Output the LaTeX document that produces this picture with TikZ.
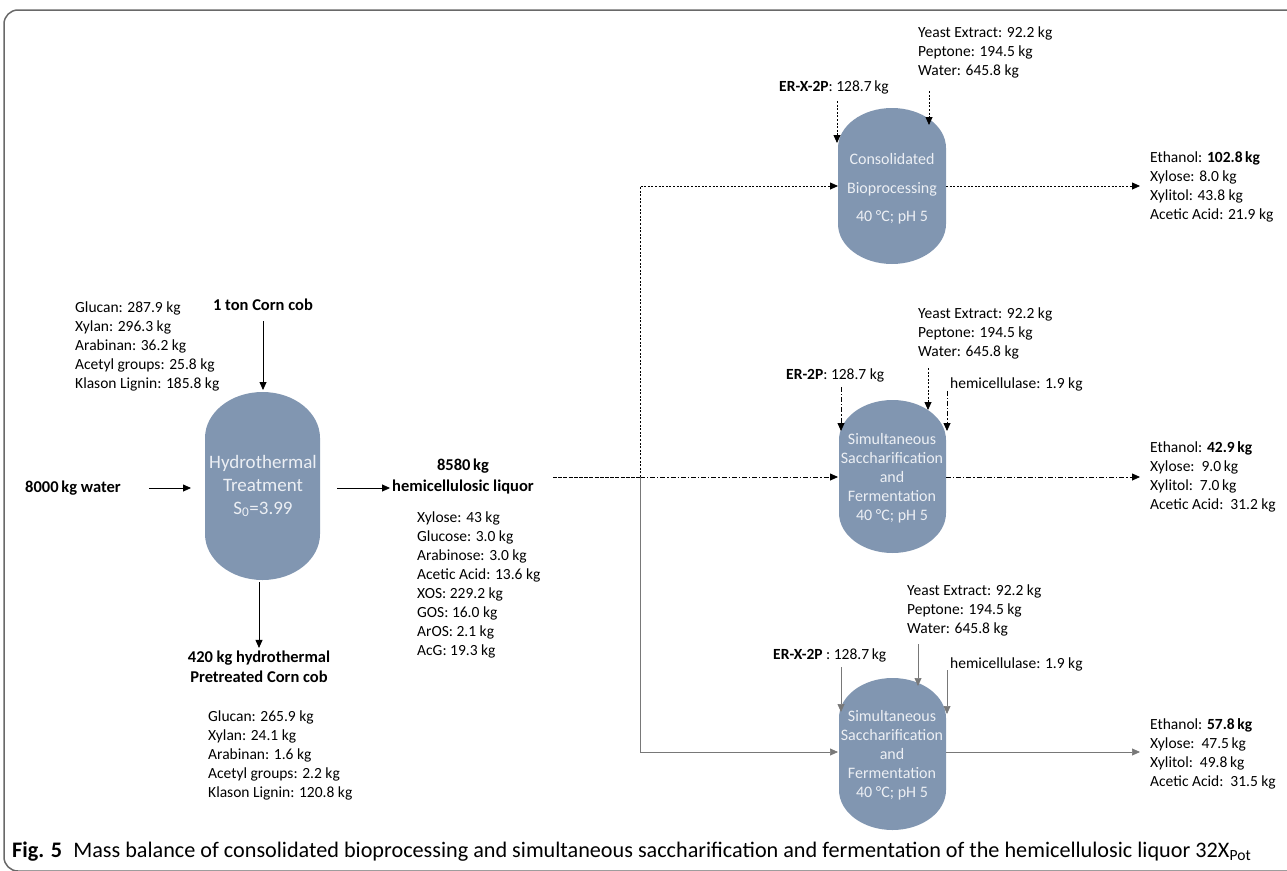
\documentclass[tikz,border=0pt]{standalone}
\usepackage{fontspec}
\setmainfont{Carlito}
\usepackage{graphicx}
\usetikzlibrary{arrows.meta}
\definecolor{vesselfill}{RGB}{129,150,177}
\definecolor{vesseltext}{RGB}{236,239,244}
\definecolor{framegray}{RGB}{105,105,105}
\definecolor{finegray}{RGB}{120,120,120}
\newcommand{\drawvessel}[5]{%
 \fill[vesselfill] ({#1},{#2+#5}) .. controls ({#1},{#2+0.4477*#5}) and ({(#1+#3)/2-0.5523*(#3-#1)/2},{#2}) .. ({(#1+#3)/2},{#2}) .. controls ({(#1+#3)/2+0.5523*(#3-#1)/2},{#2}) and ({#3},{#2+0.4477*#5}) .. ({#3},{#2+#5}) -- ({#3},{#4-#5}) .. controls ({#3},{#4-0.4477*#5}) and ({(#1+#3)/2+0.5523*(#3-#1)/2},{#4}) .. ({(#1+#3)/2},{#4}) .. controls ({(#1+#3)/2-0.5523*(#3-#1)/2},{#4}) and ({#1},{#4-0.4477*#5}) .. ({#1},{#4-#5}) -- cycle;}
\tikzset{
 txt/.style={font=\fontsize{15.5}{19}\selectfont, inner sep=0pt, align=left, anchor=north west},
 lbl/.style={font=\fontsize{16.5}{20}\selectfont\bfseries, inner sep=0pt, align=center},
 vtext/.style={font=\fontsize{16}{19}\selectfont, text=vesseltext, inner sep=0pt, align=center},
 tip/.style={-{Triangle[length=8pt,width=7pt]}},
 solidarr/.style={tip, line width=0.8pt, black},
 dotarr/.style={tip, line width=0.8pt, black, dash pattern=on 2pt off 1.6pt},
 dashln/.style={line width=0.9pt, black, dash pattern=on 4pt off 1.2pt},
 dasharr/.style={tip, line width=0.8pt, black, dash pattern=on 5pt off 2pt on 1.2pt off 2pt},
 finearr/.style={tip, line width=0.7pt, finegray},
}
\begin{document}
\begin{tikzpicture}[x=1pt,y=-1pt]
\useasboundingbox (0,0) rectangle (1287,870);
\draw[framegray, line width=1.5pt, rounded corners=14pt] (4,10) rectangle (1320,871);

% vessels
\drawvessel{205}{392}{320}{580}{46}
\drawvessel{838}{108}{946}{264}{40}
\drawvessel{839}{400}{946}{553}{40}
\drawvessel{839}{678}{946}{830}{40}

\node[vtext, font=\fontsize{19}{23}\selectfont] (ht) at (263,486) {Hydrothermal\\Treatment\\S\textsubscript{0}=3.99};
\node[vtext, font=\fontsize{16}{28.5}\selectfont] (cbp) at (892,189) {Consolidated\\Bioprocessing\\40 °C; pH 5};
\node[vtext] (ssfa) at (892,478) {Simultaneous\\Saccharification\\and\\Fermentation\\40 °C; pH 5};
\node[vtext] (ssfb) at (892,755) {Simultaneous\\Saccharification\\and\\Fermentation\\40 °C; pH 5};

% left part
\node[txt] (feed) at (75,302) {Glucan: 287.9 kg\\Xylan: 296.3 kg\\Arabinan: 36.2 kg\\Acetyl groups: 25.8 kg\\Klason Lignin: 185.8 kg};
\node[lbl] (cob) at (263,305) {1 ton Corn cob};
\node[lbl, anchor=west] (water) at (25,488) {8000\,kg water};
\node[lbl, font=\fontsize{16.5}{21}\selectfont\bfseries] (liq) at (463,477) {8580\,kg\\hemicellulosic liquor};
\node[txt] (liqcomp) at (417,512) {Xylose: 43 kg\\Glucose: 3.0 kg\\Arabinose: 3.0 kg\\Acetic Acid: 13.6 kg\\XOS: 229.2 kg\\GOS: 16.0 kg\\ArOS: 2.1 kg\\AcG: 19.3 kg};
\node[lbl] (solid) at (259,667) {420 kg hydrothermal\\Pretreated Corn cob};
\node[txt] (solidcomp) at (208,711) {Glucan: 265.9 kg\\Xylan: 24.1 kg\\Arabinan: 1.6 kg\\Acetyl groups: 2.2 kg\\Klason Lignin: 120.8 kg};

\coordinate (htTop) at (263,390);
\coordinate (htL) at (191,488);
\coordinate (htR) at (337,488);
\coordinate (htB) at (259,582);
\draw[solidarr] ([yshift=-10pt]cob.south) -- (htTop);
\draw[solidarr] ([xshift=28pt]water.east) -- (htL);
\draw[solidarr] (htR) -- ([xshift=-2pt]liq.south west |- htR);
\draw[solidarr] (htB) -- ([yshift=3pt]solid.north -| htB);

% CBP
\node[txt] (cbpin) at (918,27) {Yeast Extract: 92.2 kg\\Peptone: 194.5 kg\\Water: 645.8 kg};
\node[txt, anchor=west] (cbper) at (779,87) {\textbf{ER-X-2P}: 128.7\,kg};
\node[txt] (cbpout) at (1150,151) {Ethanol: \textbf{102.8\,kg}\\Xylose: 8.0 kg\\Xylitol: 43.8 kg\\Acetic Acid: 21.9 kg};
\draw[dotarr] (837,101) -- (837,143);
\draw[dotarr] (929,91) -- (929,125);
\draw[dotarr] (946,186) -- (1140,186);

% SSF 1
\node[txt] (ssfain) at (918,308) {Yeast Extract: 92.2 kg\\Peptone: 194.5 kg\\Water: 645.8 kg};
\node[txt, anchor=west] (ssfaer) at (786,375) {\textbf{ER-2P}: 128.7 kg};
\node[txt, anchor=west] (ssfahe) at (950,384) {hemicellulase: 1.9 kg};
\node[txt] (ssfaout) at (1150,441) {Ethanol: \textbf{42.9\,kg}\\Xylose:\ \ 9.0\,kg\\Xylitol:\ \ 7.0\,kg\\Acetic Acid:\ \ 31.2 kg};
\draw[dasharr] (841,387) -- (841,431);
\draw[dotarr] (928,368) -- (928,410);
\draw[dasharr] (947,391) -- (947,431);
\draw[dasharr] (946,477) -- (1140,477);

% SSF 2
\node[txt] (ssfbin) at (907,585) {Yeast Extract: 92.2 kg\\Peptone: 194.5 kg\\Water: 645.8 kg};
\node[txt, anchor=west] (ssfber) at (773,655) {\textbf{ER-X-2P} : 128.7\,kg};
\node[txt, anchor=west] (ssfbhe) at (950,664) {hemicellulase: 1.9 kg};
\node[txt] (ssfbout) at (1150,718) {Ethanol: \textbf{57.8\,kg}\\Xylose:\ \ 47.5\,kg\\Xylitol:\ \ 49.8\,kg\\Acetic Acid:\ \ 31.5 kg};
\draw[finearr] (841,667) -- (841,712);
\draw[finearr] (918,644) -- (918,686);
\draw[finearr] (947,670) -- (947,714);
\draw[finearr] (946,752) -- (1140,752);

% liquor distribution
\coordinate (split) at (640,477);
\draw[dashln] (553,477) -- (split);
\draw[dotarr] (split) -- (640,186) -- (838,186);
\draw[dasharr] (split) -- (838,477);
\draw[finearr] (split) -- (640,752) -- (838,752);

% caption
\node[anchor=base west, inner sep=0pt, font=\fontsize{22.2}{24}\selectfont] (cap) at (12,857) {\textbf{Fig. 5}\enspace Mass balance of consolidated bioprocessing and simultaneous saccharification and fermentation of the hemicellulosic liquor 32X\textsubscript{Pot}};
\end{tikzpicture}
\end{document}
